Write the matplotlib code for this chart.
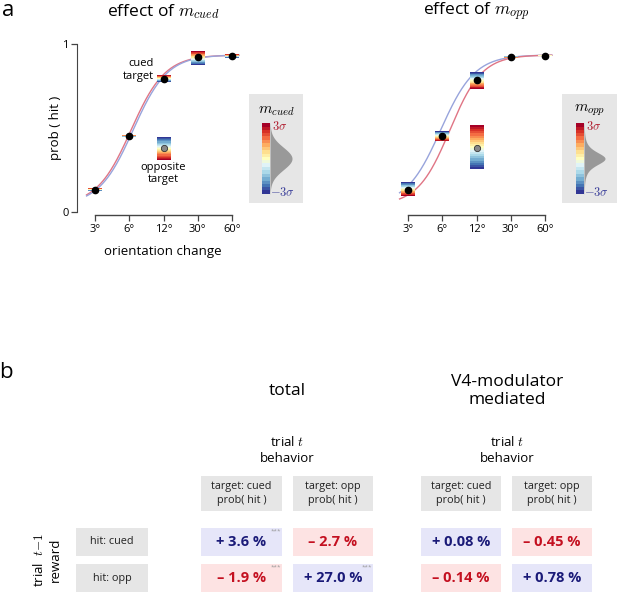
import numpy as np
import matplotlib
matplotlib.use('Agg')
import matplotlib.pyplot as plt
from matplotlib.patches import Rectangle

plt.rcParams['font.family'] = ['Open Sans', 'DejaVu Sans']
plt.rcParams['mathtext.fontset'] = 'cm'

# ---------------- data ----------------
orient_labels = ['3°', '6°', '12°', '30°', '60°']

# panel: effect of m_cued
pts_mcued = [0.13, 0.45, 0.79, 0.92, 0.93]
box_lo_mcued = [0.125, 0.447, 0.774, 0.875, 0.917]
box_hi_mcued = [0.140, 0.453, 0.810, 0.958, 0.940]
opp_mcued = [0.38, 0.31, 0.446]          # centre, low, high (at 12°)
fit_mcued_red = [0.04, 0.935, 1.05, 0.5]  # floor, ceiling, midpoint, width
fit_mcued_blue = [0.04, 0.935, 1.11, 0.5]

# panel: effect of m_opp
pts_mopp = [0.131, 0.452, 0.786, 0.923, 0.929]
box_lo_mopp = [0.095, 0.423, 0.732, 0.919, 0.926]
box_hi_mopp = [0.173, 0.482, 0.833, 0.925, 0.931]
opp_mopp = [0.38, 0.256, 0.512]
fit_mopp_blue = [0.04, 0.935, 0.95, 0.5]
fit_mopp_red = [0.04, 0.935, 1.22, 0.47]

# panel b table
col_headers = ['target: cued\nprob( hit )', 'target: opp\nprob( hit )']
row_labels = ['hit: cued', 'hit: opp']
total_vals = [[3.6, -2.7], [-1.9, 27.0]]
total_sig = [[True, False], [True, True]]
mediated_vals = [[0.08, -0.45], [-0.14, 0.78]]
mediated_sig = [[False, False], [False, False]]

# ---------------- style ----------------
W, H = 617, 592
cmap = plt.get_cmap('RdYlBu_r', 21)
RED_LINE = '#e07585'
BLUE_LINE = '#98a4dc'
AX_COL = '#444444'
GRAY_BOX = '#e6e6e6'

fig = plt.figure(figsize=(W / 100, H / 100), dpi=100)

# overlay axes in pixel coordinates (y downward)
ov = fig.add_axes([0, 0, 1, 1])
ov.axis('off')


def px_axes(left, right, top, bottom):
    return fig.add_axes([left / W, (H - bottom) / H, (right - left) / W, (bottom - top) / H])


def logistic(x, p):
    g, L, x0, s = p
    return g + (L - g) / (1 + np.exp(-(x - x0) / s))


grad = np.linspace(0, 1, 200).reshape(-1, 1)


def draw_box(ax, x, lo, hi, reverse, hw=0.2):
    g = 1 - grad if reverse else grad
    ax.imshow(g, extent=[x - hw, x + hw, lo, hi], origin='lower', cmap=cmap,
              aspect='auto', interpolation='nearest', zorder=3, vmin=0, vmax=1)


def make_panel(left_px, show_y, pts, lo, hi, opp, fit_a, col_a, fit_b, col_b,
               cued_reverse, opp_reverse, title):
    unit = 34.2
    xl = (-0.53, 4.3)
    ax = px_axes(left_px, left_px + unit * (xl[1] - xl[0]), 44, 215)
    ax.patch.set_alpha(0)
    xs = np.arange(len(orient_labels))
    xc = np.linspace(-0.25, 4.2, 300)
    ax.plot(xc, logistic(xc, fit_a), color=col_a, lw=1.0, zorder=2)
    ax.plot(xc, logistic(xc, fit_b), color=col_b, lw=1.0, zorder=2)
    for i in range(len(xs)):
        h = max(hi[i] - lo[i], 0.004)
        draw_box(ax, xs[i], lo[i], lo[i] + h, cued_reverse)
    ax.plot(xs, pts, 'o', color='black', ms=4.5, zorder=5)
    # opposite target marker at 12°
    draw_box(ax, 2, opp[1], opp[2], opp_reverse)
    ax.plot([2], [opp[0]], 'o', color='#888888', mec='#333333', mew=0.6, ms=4.5, zorder=5)

    ax.set_xlim(*xl)
    ax.set_ylim(-0.018, 1.0)
    ax.set_xticks(xs)
    ax.set_xticklabels(orient_labels, fontsize=8)
    for s in ['top', 'right']:
        ax.spines[s].set_visible(False)
    ax.spines['bottom'].set_bounds(0, 4)
    ax.spines['bottom'].set_color(AX_COL)
    ax.spines['bottom'].set_linewidth(1.0)
    ax.tick_params(axis='x', length=4, width=0.9, color=AX_COL, pad=2.5)
    if show_y:
        ax.spines['left'].set_bounds(0, 1)
        ax.spines['left'].set_color(AX_COL)
        ax.set_yticks([0, 1])
        ax.set_yticklabels(['0', '1'], fontsize=8)
        ax.tick_params(axis='y', length=4, width=0.9, color=AX_COL, pad=2)
    else:
        ax.spines['left'].set_visible(False)
        ax.set_yticks([])
    fig.text((left_px + 0.53 * unit + 2 * unit) / W, 1 - 12 / H, title,
             ha='center', va='center', fontsize=12.5)
    return ax


axL = make_panel(77, True, pts_mcued, box_lo_mcued, box_hi_mcued, opp_mcued,
                 fit_mcued_red, RED_LINE, fit_mcued_blue, BLUE_LINE,
                 False, True, r'effect of $m_{cued}$')
axR = make_panel(390, False, pts_mopp, box_lo_mopp, box_hi_mopp, opp_mopp,
                 fit_mopp_blue, BLUE_LINE, fit_mopp_red, RED_LINE,
                 True, False, r'effect of $m_{opp}$')

axL.text(1.72, 0.845, 'cued\ntarget', ha='right', va='center', fontsize=8,
         linespacing=1.15)
axL.text(2, 0.23, 'opposite\ntarget', ha='center', va='center', fontsize=8,
         linespacing=1.15)

# labels in pixel coordinates
ov.text(55, 128, 'prob ( hit )', rotation=90, ha='center', va='center', fontsize=9.5)
ov.text(163, 252, 'orientation change', ha='center', va='center', fontsize=9.5)
ov.text(8, 10, 'a', ha='center', va='center', fontsize=16)
ov.text(6, 372, 'b', ha='center', va='center', fontsize=16)


# ---------------- distribution legends ----------------
def legend(x0, x1, cbx, title, shape):
    ov.add_patch(Rectangle((x0, 94), x1 - x0, 109, color=GRAY_BOX, lw=0, zorder=0))
    ov.imshow(grad, extent=[cbx, cbx + 8, 194, 123], origin='lower', cmap=cmap,
              aspect='auto', interpolation='nearest', zorder=2, vmin=0, vmax=1)
    z = np.linspace(-3, 3, 300)
    yy = 158.5 - z * 71 / 6
    ov.fill_betweenx(yy, cbx + 8, cbx + 8 + shape(z), color='#999999', lw=0, zorder=1)
    ov.text(cbx + 14, 110, title, ha='center', va='center', fontsize=11)
    ov.text(cbx + 10, 127, r'$3\sigma$', ha='left', va='center', fontsize=9, color='#b01c2e')
    ov.text(cbx + 8, 193, r'$-3\sigma$', ha='left', va='center', fontsize=9, color='#3b3f9a')


legend(249, 303, 262, r'$m_{cued}$', lambda z: 22 * np.exp(-z ** 2 / 2 / 0.9))
legend(562, 620, 576, r'$m_{opp}$', lambda z: 21 * (1 + z ** 2 / 1.2) ** -2.2)

# ---------------- table ----------------
cols_x = [(201, 282), (293, 373), (421, 501), (512, 592)]
head_y = (476, 511)
rows_y = [(528, 556), (564, 592)]
lab_x = (76, 148)
BLUE_CELL, RED_CELL = '#e6e6f9', '#fde3e3'
BLUE_TXT, RED_TXT = '#1a1a78', '#c41020'

ov.text(287, 391, 'total', ha='center', va='center', fontsize=12.5)
ov.text(507, 391, 'V4-modulator\nmediated', ha='center', va='center', fontsize=12.5,
        linespacing=1.2)
for cx in (287, 507):
    ov.text(cx, 450, 'trial $t$\nbehavior', ha='center', va='center', fontsize=9.5,
            linespacing=1.25)

for j, (a, b) in enumerate(cols_x):
    ov.add_patch(Rectangle((a, head_y[0]), b - a, head_y[1] - head_y[0], color=GRAY_BOX, lw=0))
    ov.text((a + b) / 2, (head_y[0] + head_y[1]) / 2, col_headers[j % 2], ha='center',
            va='center', fontsize=7.8, linespacing=1.4, color='#222222')

for i, (t, bt) in enumerate(rows_y):
    ov.add_patch(Rectangle((lab_x[0], t), lab_x[1] - lab_x[0], bt - t, color=GRAY_BOX, lw=0))
    ov.text((lab_x[0] + lab_x[1]) / 2, (t + bt) / 2, row_labels[i], ha='center', va='center',
            fontsize=7.8, color='#222222')

ov.text(39, 560, 'trial  $t\\!-\\!1$', rotation=90, ha='center', va='center', fontsize=9.5)
ov.text(55, 560, 'reward', rotation=90, ha='center', va='center', fontsize=9.5)


def fill_block(vals, sig, col_pair, fmt):
    for i, (t, bt) in enumerate(rows_y):
        for j in range(2):
            a, b = cols_x[col_pair + j]
            v = vals[i][j]
            pos = v > 0
            ov.add_patch(Rectangle((a, t), b - a, bt - t, color=BLUE_CELL if pos else RED_CELL, lw=0))
            s = ('+ ' if pos else '– ') + fmt.format(abs(v)) + ' %'
            ov.text((a + b) / 2, (t + bt) / 2, s, ha='center', va='center', fontsize=10.5,
                    fontweight='bold', color=BLUE_TXT if pos else RED_TXT)
            if sig[i][j]:
                ov.text(b - 6, t + 3.5, '***', ha='center', va='center', fontsize=4.5,
                        color='#999999')


fill_block(total_vals, total_sig, 0, '{:.1f}')
fill_block(mediated_vals, mediated_sig, 2, '{:.2f}')

ov.set_xlim(0, W)
ov.set_ylim(H, 0)

fig.savefig('out.png', dpi=100)
